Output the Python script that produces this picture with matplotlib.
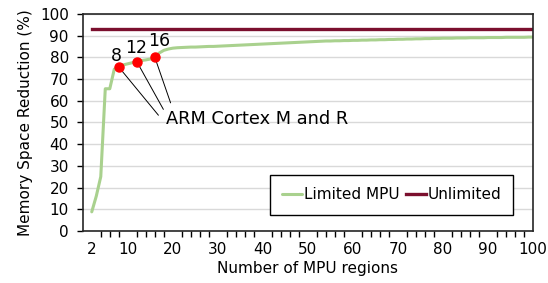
import numpy as np
import matplotlib.pyplot as plt

plt.rcParams['font.family'] = ['DejaVu Sans']

# number of MPU regions
regions = list(range(2, 101))
# memory space reduction (%) with a limited MPU
limited = [8.8, 16, 25, 65.5, 65.5, 74.5, 75.5, 76.5, 77, 77.5,
           78, 78.5, 78.8, 79.2, 80, 82, 83.2, 83.8, 84.2, 84.4,
           84.5, 84.6, 84.7, 84.7, 84.8, 84.9, 85.0, 85.0, 85.1,
           85.2, 85.3, 85.4, 85.5, 85.6, 85.7, 85.8, 85.9, 86.0, 86.1,
           86.2, 86.3, 86.4, 86.5, 86.6, 86.7, 86.8, 86.9, 87.0, 87.1,
           87.2, 87.3, 87.4, 87.5, 87.5, 87.6, 87.6, 87.7, 87.7, 87.8,
           87.8, 87.9, 87.9, 88.0, 88.0, 88.1, 88.1, 88.2, 88.2, 88.3,
           88.3, 88.4, 88.4, 88.5, 88.5, 88.6, 88.6, 88.7, 88.7, 88.8,
           88.8, 88.8, 88.9, 88.9, 88.9, 89.0, 89.0, 89.0, 89.0, 89.1,
           89.1, 89.1, 89.1, 89.2, 89.2, 89.2, 89.2, 89.2, 89.3, 89.3]
unlimited = [93.2] * len(regions)
# ARM Cortex M and R region counts
arm_regions = [8, 12, 16]

fig = plt.figure(figsize=(5.48, 2.83), dpi=100)
ax = fig.add_axes([0.151, 0.184, 0.822, 0.767])

ax.grid(True, axis='y', color='#d9d9d9', lw=1)
ax.set_axisbelow(True)

ax.plot(regions, limited, color='#a9d18e', lw=2.2, label='Limited MPU', solid_capstyle='round')
ax.plot(regions, unlimited, color='#7b0f2e', lw=2.4, label='Unlimited')

arm_y = [limited[regions.index(r)] for r in arm_regions]
ax.plot(arm_regions, arm_y, 'o', color='#ff0000', ms=6.5, zorder=5)

# labels above the dots
label_pos = [(7.4, 80.5), (11.9, 84.5), (17.0, 87.3)]
for r, (lx, ly) in zip(arm_regions, label_pos):
    ax.text(lx, ly, str(r), fontsize=12.5, ha='center', va='center')

# leader lines to the annotation
line_end = [(16.8, 53.3), (17.9, 56.0), (19.5, 59.0)]
for r, yv, end in zip(arm_regions, arm_y, line_end):
    ax.annotate('', xy=(r, yv), xytext=end,
                arrowprops=dict(arrowstyle='-', lw=0.7, color='black', shrinkA=0, shrinkB=0))
ax.text(18.5, 51.5, 'ARM Cortex M and R', fontsize=12.8, ha='left', va='center')

ax.set_xlim(0, 100)
ax.set_ylim(0, 100)
ax.set_xticks([2, 10, 20, 30, 40, 50, 60, 70, 80, 90, 100])
ax.set_xticks(np.arange(2, 101, 2), minor=True)
ax.set_yticks(np.arange(0, 101, 10))
ax.tick_params(axis='x', which='major', length=0, labelsize=11, pad=8)
ax.tick_params(axis='x', which='minor', length=4, width=1)
ax.tick_params(axis='y', length=4, width=1, labelsize=11, pad=6)

for s in ax.spines.values():
    s.set_color('#262626')
    s.set_linewidth(1.2)

ax.set_xlabel('Number of MPU regions', fontsize=11, labelpad=3)
ax.set_ylabel('Memory Space Reduction (%)', fontsize=11, labelpad=5)

leg = ax.legend(loc='lower right', bbox_to_anchor=(0.973, 0.04), ncol=2, fontsize=11,
                handlelength=1.3, handletextpad=0.1, columnspacing=0.45,
                fancybox=False, framealpha=1, edgecolor='black', borderpad=0.8)
leg.get_frame().set_linewidth(1)

fig.savefig('out.png', dpi=100)
